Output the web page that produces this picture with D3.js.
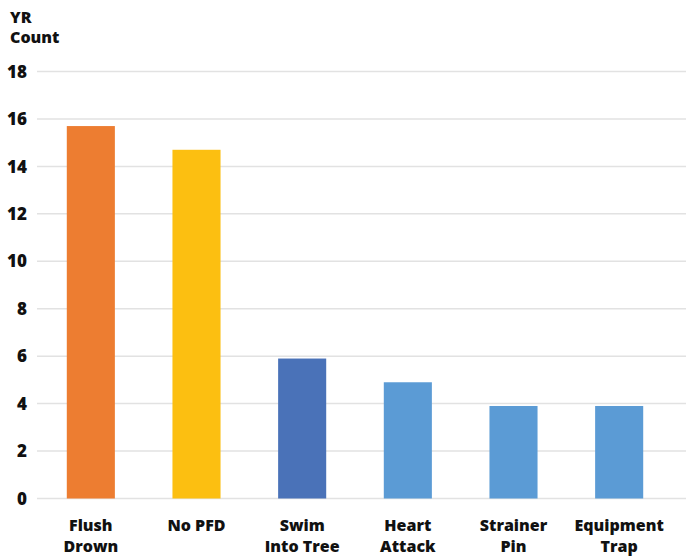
<!DOCTYPE html>
<html>
<head>
<meta charset="utf-8">
<script src="https://cdn.jsdelivr.net/npm/d3@7"></script>
<style>
  html, body { margin: 0; padding: 0; background: #fff; }
  svg text { font-family: "Open Sans", "Noto Sans", sans-serif; font-weight: 800; fill: #111; }
</style>
</head>
<body>
<svg id="chart" width="686" height="558"></svg>
<script>
// Average fatalities per year by cause
const categories = [["Flush", "Drown"], ["No PFD"], ["Swim", "Into Tree"], ["Heart", "Attack"], ["Strainer", "Pin"], ["Equipment", "Trap"]];
const values = [15.7, 14.7, 5.9, 4.9, 3.9, 3.9];
const barColors = ["#ED7D31", "#FCBF11", "#4A72B8", "#5B9BD5", "#5B9BD5", "#5B9BD5"];
const yTicks = [0, 2, 4, 6, 8, 10, 12, 14, 16, 18];
const axisTitle = ["YR", "Count"];

const svg = d3.select("#chart");
const margin = { left: 38, right: 14, top: 71.5, bottom: 59.5 };
const W = 686, H = 558;

const x = d3.scaleBand()
  .domain(d3.range(values.length))
  .range([margin.left, W - margin.right])
  .paddingInner(0.545)
  .paddingOuter(0.2725);

const y = d3.scaleLinear()
  .domain([0, 18])
  .range([H - margin.bottom, margin.top]);

// horizontal gridlines, running to the right edge
svg.append("g")
  .selectAll("line")
  .data(yTicks)
  .join("line")
  .attr("x1", margin.left - 1)
  .attr("x2", W)
  .attr("y1", d => y(d))
  .attr("y2", d => y(d))
  .attr("stroke", "#e2e2e2")
  .attr("stroke-width", 1.5);

// y tick labels
svg.append("g")
  .selectAll("text")
  .data(yTicks)
  .join("text")
  .attr("x", 27)
  .attr("y", d => y(d))
  .attr("dy", "0.36em")
  .attr("text-anchor", "end")
  .attr("font-size", 17)
  .text(d => d);

// axis title
svg.append("text")
  .attr("font-size", 16)
  .selectAll("tspan")
  .data(axisTitle)
  .join("tspan")
  .attr("x", 10)
  .attr("y", (d, i) => 23 + i * 20)
  .text(d => d);

// bars
svg.append("g")
  .selectAll("rect")
  .data(values)
  .join("rect")
  .attr("x", (d, i) => x(i))
  .attr("width", x.bandwidth())
  .attr("y", d => y(d))
  .attr("height", d => y(0) - y(d))
  .attr("fill", (d, i) => barColors[i]);

// category labels
const lab = svg.append("g")
  .selectAll("text")
  .data(categories)
  .join("text")
  .attr("text-anchor", "middle")
  .attr("font-size", 16);
lab.selectAll("tspan")
  .data((d, i) => d.map(s => ({ s, i })))
  .join("tspan")
  .attr("x", d => x(d.i) + x.bandwidth() / 2)
  .attr("y", (d, j) => 531 + j * 20.5)
  .text(d => d.s);
</script>
</body>
</html>
